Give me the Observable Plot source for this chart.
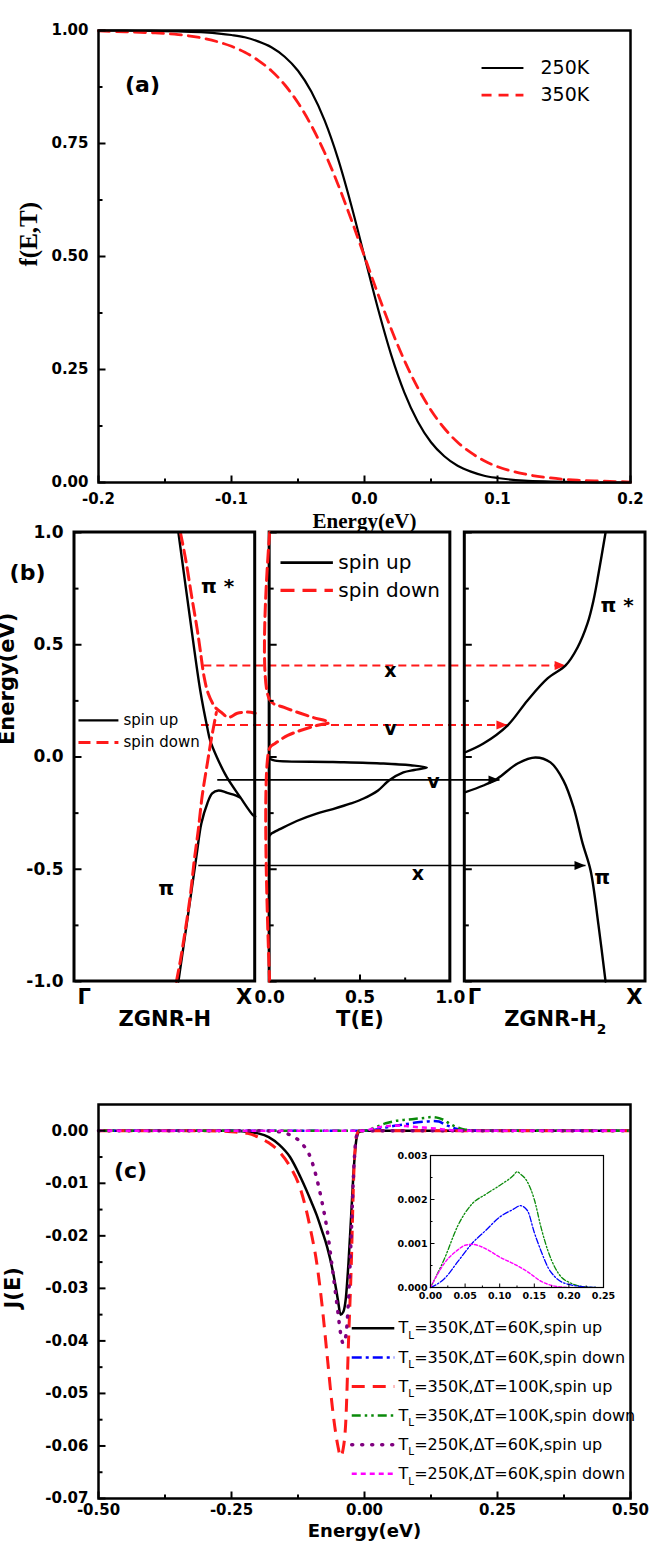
<!DOCTYPE html>
<html><head><meta charset="utf-8">
<script src="https://cdn.jsdelivr.net/npm/d3@7"></script>
<script src="https://cdn.jsdelivr.net/npm/@observablehq/plot@0.6"></script>
<style>
html,body{margin:0;padding:0;background:#fff;}
#fig{position:relative;width:651px;height:1545px;overflow:hidden;background:#fff;}
#fig svg{position:absolute;overflow:visible;}
</style></head><body><div id="fig"></div>
<script>
// ================= DATA =================
// ---- Panel (a): Fermi-Dirac distribution
const energyA = [-0.2,-0.18,-0.16,-0.14,-0.12,-0.1,-0.09,-0.08,-0.07,-0.06,-0.05,-0.04,-0.03,-0.02,-0.01,0,0.01,0.02,0.03,0.04,0.05,0.06,0.07,0.08,0.09,0.1,0.12,0.14,0.16,0.18,0.2];
const f250K = [1.000,1.000,0.999,0.998,0.996,0.990,0.985,0.976,0.963,0.942,0.911,0.865,0.801,0.717,0.614,0.500,0.386,0.283,0.199,0.135,0.089,0.058,0.037,0.024,0.015,0.010,0.004,0.002,0.001,0.000,0.000];
const f350K = [0.999,0.997,0.995,0.991,0.982,0.965,0.952,0.934,0.911,0.880,0.840,0.790,0.730,0.660,0.582,0.500,0.418,0.340,0.270,0.210,0.160,0.120,0.089,0.066,0.048,0.035,0.019,0.010,0.005,0.003,0.001];
const tempLabelsA = ["250K","350K"];
const xTicksA = [-0.2,-0.1,0,0.1,0.2];
const xMinorA = [-0.15,-0.05,0.05,0.15];
const yTicksA = [0,0.25,0.5,0.75,1];
const yMinorA = [0.125,0.375,0.625,0.875];

// ---- Panel (b): band structures and transmission
const hUpPiStarK = [0.575,0.641,0.696,0.735,0.751,0.788,0.843,0.917,0.989,1.0];
const hUpPiStarE = [1.0,0.608,0.296,0.13,0.073,-0.001,-0.09,-0.179,-0.26,-0.265];
const hUpPiK = [0.575,0.624,0.674,0.702,0.735,0.762,0.797,0.84,0.88,0.915];
const hUpPiE = [-1.0,-0.728,-0.447,-0.296,-0.207,-0.162,-0.149,-0.158,-0.168,-0.18];
const hDnUpperK = [0.586,0.613,0.652,0.680,0.696,0.718,0.740,0.779,0.818,0.851,0.901,0.956,1.0];
const hDnUpperE = [1.0,0.890,0.698,0.564,0.475,0.354,0.283,0.221,0.195,0.176,0.195,0.2,0.195];
const hDnLowerK = [0.564,0.586,0.613,0.641,0.663,0.685,0.707,0.735,0.751,0.768,0.785];
const hDnLowerE = [-1.0,-0.906,-0.772,-0.616,-0.459,-0.325,-0.171,-0.029,0.051,0.127,0.198];
const tUpT = [0,0.03,0.35,0.63,0.78,0.87,0.80,0.74,0.66,0.60,0.52,0.45,0.35,0.26,0.15,0.06,0.01,0];
const tUpE = [-0.008,-0.016,-0.022,-0.029,-0.037,-0.047,-0.058,-0.069,-0.105,-0.149,-0.185,-0.207,-0.232,-0.252,-0.285,-0.32,-0.341,-0.35];
const tDnT = [0,0,0.08,0.17,0.24,0.33,0.26,0.17,0.10,0.03,0,0];
const tDnE = [1,0.255,0.221,0.195,0.176,0.154,0.14,0.118,0.096,0.06,0.04,-1];
const h2PiStarK = [0,0.103,0.236,0.347,0.458,0.558,0.624,0.679,0.712,0.740,0.779];
const h2PiStarE = [0.02,0.06,0.14,0.252,0.35,0.408,0.488,0.595,0.697,0.817,1.0];
const h2PiK = [0,0.103,0.181,0.292,0.391,0.474,0.546,0.602,0.652,0.696,0.74,0.779];
const h2PiE = [-0.158,-0.127,-0.096,-0.029,-0.002,-0.024,-0.105,-0.225,-0.385,-0.505,-0.75,-1.0];
const arrowE = [0.408,0.1425,-0.102,-0.483];
const arrowFromK = [0.713,0.70,0.79,0.685];
const arrowToK = [0.558,0.236,0.192,0.668];
const arrowSpin = ["down","down","up","up"];
const transLabelT = [0.668,0.668,0.906,0.82];
const transLabelE = [0.385,0.123,-0.113,-0.52];
const transLabelText = ["x","v","v","x"];
const bandLabelPanel = [0,0,2,2];
const bandLabelK = [0.70,0.464,0.751,0.717];
const bandLabelE = [0.76,-0.586,0.675,-0.535];
const bandLabelText = ["π *","π","π *","π"];
const yTicksB = [-1,-0.5,0,0.5,1];
const yMinorB = [-0.75,-0.25,0.25,0.75];
const tTicksB = [0,0.5,1];
const tMinorB = [0.25,0.75];
const kPointLabels = ["Γ","X"];
const panelNamesB = ["ZGNR-H","T(E)","ZGNR-H_2"];
const spinLabels = ["spin up","spin down"];

// ---- Panel (c): spin-resolved current spectra J(E)
const eUp350_60 = [-0.5,-0.25,-0.22,-0.2,-0.18,-0.16,-0.14,-0.12,-0.1,-0.09,-0.08,-0.07,-0.06,-0.055,-0.05,-0.045,-0.04,-0.035,-0.03,-0.025,-0.02,-0.015,-0.01,0,0.5];
const jUp350_60 = [0,0,-0.0002,-0.0005,-0.0012,-0.0027,-0.005,-0.0089,-0.0135,-0.016,-0.019,-0.0222,-0.0265,-0.0292,-0.0322,-0.035,-0.0345,-0.0318,-0.025,-0.016,-0.007,-0.0015,-0.0002,0,0];
const eDn350_60 = [-0.5,0,0.01,0.02,0.04,0.06,0.08,0.1,0.12,0.13,0.14,0.15,0.16,0.17,0.18,0.19,0.2,0.22,0.24,0.5];
const jDn350_60 = [0,0,0.00008,0.0002,0.0006,0.001,0.0013,0.0016,0.00178,0.00186,0.00175,0.00125,0.00082,0.00045,0.00024,0.00012,0.00007,0.00002,0,0];
const eUp350_100 = [-0.5,-0.3,-0.25,-0.22,-0.2,-0.18,-0.16,-0.14,-0.12,-0.1,-0.09,-0.08,-0.07,-0.06,-0.05,-0.045,-0.04,-0.035,-0.03,-0.025,-0.02,-0.015,-0.01,0.5];
const jUp350_100 = [0,0,-0.0002,-0.0005,-0.0012,-0.0023,-0.004,-0.0068,-0.0112,-0.0195,-0.025,-0.033,-0.043,-0.053,-0.06,-0.062,-0.0605,-0.055,-0.04,-0.026,-0.008,-0.001,0,0];
const eDn350_100 = [-0.5,0,0.02,0.04,0.06,0.08,0.1,0.12,0.125,0.13,0.14,0.15,0.16,0.17,0.18,0.19,0.2,0.22,0.24,0.5];
const jDn350_100 = [0,0,0.00065,0.00142,0.0019,0.00212,0.00232,0.00255,0.00263,0.00258,0.0024,0.002,0.00135,0.00082,0.00045,0.00022,0.00012,0.00002,0,0];
const eUp250_60 = [-0.5,-0.2,-0.16,-0.14,-0.12,-0.1,-0.09,-0.08,-0.07,-0.06,-0.05,-0.045,-0.04,-0.035,-0.03,-0.025,-0.02,-0.015,-0.01,0.5];
const jUp250_60 = [0,0,-0.0002,-0.0008,-0.0022,-0.0055,-0.009,-0.0135,-0.019,-0.0265,-0.0345,-0.0385,-0.0405,-0.039,-0.032,-0.02,-0.007,-0.001,0,0];
const eDn250_60 = [-0.5,0,0.02,0.04,0.05,0.06,0.08,0.1,0.12,0.14,0.16,0.18,0.2,0.5];
const jDn250_60 = [0,0,0.00055,0.00086,0.00096,0.00098,0.00088,0.00069,0.00054,0.00036,0.00014,0.00003,0,0];
const seriesLabelsC = ["T_L=350K,ΔT=60K,spin up","T_L=350K,ΔT=60K,spin down","T_L=350K,ΔT=100K,spin up","T_L=350K,ΔT=100K,spin down","T_L=250K,ΔT=60K,spin up","T_L=250K,ΔT=60K,spin down"];
const xTicksC = [-0.5,-0.25,0,0.25,0.5];
const xMinorC = [-0.375,-0.125,0.125,0.375];
const yTicksC = [0,-0.01,-0.02,-0.03,-0.04,-0.05,-0.06,-0.07];
const yMinorC = [-0.005,-0.015,-0.025,-0.035,-0.045,-0.055,-0.065];
const xTicksInset = [0,0.05,0.1,0.15,0.2,0.25];
const xMinorInset = [0.025,0.075,0.125,0.175,0.225];
const yTicksInset = [0,0.001,0.002,0.003];
const yMinorInset = [0.0005,0.0015,0.0025];

// ================= STYLES / HELPERS =================
const SANS = "'DejaVu Sans', 'Liberation Sans', sans-serif";
const SERIF = "'Liberation Serif', 'Times New Roman', serif";
const RED = "#ff1a1a";
const baseStyle = {background:"transparent", overflow:"visible", color:"black", fontFamily:SANS};
const fig = document.getElementById("fig");
function place(svg, top, left=0){ svg.style.top = top+"px"; svg.style.left = left+"px"; fig.appendChild(svg); return svg; }
const tickSym = (dx, dy) => ({draw(ctx){ ctx.moveTo(0,0); ctx.lineTo(dx,dy); }});
const triSym = {draw(ctx){ ctx.moveTo(0,0); ctx.lineTo(-11,-4.5); ctx.lineTo(-11,4.5); ctx.closePath(); }};
function yTicksAt(values, xv, len, sw=2){ return Plot.dot(values, {x: () => xv, y: d => d, symbol: tickSym(len,0), r:1, fill:"none", stroke:"black", strokeWidth:sw}); }
function xTicksAt(values, yv, len, sw=2){ return Plot.dot(values, {x: d => d, y: () => yv, symbol: tickSym(0,-len), r:1, fill:"none", stroke:"black", strokeWidth:sw}); }
const zip = (xs, ys) => xs.map((x,i)=>({x, y: ys[i]}));
function subscripts(svg){
  const ns = "http://www.w3.org/2000/svg";
  svg.querySelectorAll("text").forEach(el => {
    const t = el.textContent; const m = t.match(/^(.*?)_(\w)(.*)$/);
    if (!m) return;
    const fs = parseFloat(getComputedStyle(el).fontSize) || 16;
    el.textContent = "";
    const a = document.createElementNS(ns,"tspan"); a.textContent = m[1]; el.appendChild(a);
    const b = document.createElementNS(ns,"tspan"); b.textContent = m[2]; b.setAttribute("dy", (fs*0.35).toFixed(1)); b.setAttribute("font-size", (fs*0.65).toFixed(1)); el.appendChild(b);
    if (m[3]) { const c = document.createElementNS(ns,"tspan"); c.textContent = m[3]; c.setAttribute("dy", (-fs*0.35).toFixed(1)); el.appendChild(c); }
  });
}

// ================= PANEL (a) =================
const A = {top:0, height:545, mt:30, mb:63, ml:98, mr:21};
const legA = {x1:0.088, x2:0.1195, xt:0.1323, y:[0.917,0.857]};
const plotA = Plot.plot({
  width:651, height:A.height, marginTop:A.mt, marginBottom:A.mb, marginLeft:A.ml, marginRight:A.mr,
  x:{domain:[-0.2,0.2]}, y:{domain:[0,1]}, style:baseStyle,
  marks:[
    Plot.line(zip(energyA, f250K), {x:"x", y:"y", stroke:"black", strokeWidth:2.2, curve:"monotone-x"}),
    Plot.line(zip(energyA, f350K), {x:"x", y:"y", stroke:RED, strokeWidth:2.8, strokeDasharray:"11,7", curve:"monotone-x"}),
    Plot.frame({stroke:"black", strokeWidth:2.5}),
    yTicksAt(yTicksA, -0.2, 7), yTicksAt(yMinorA, -0.2, 4),
    xTicksAt(xTicksA, 0, 7), xTicksAt(xMinorA, 0, 4),
    Plot.axisY({ticks:yTicksA, tickFormat:d=>d.toFixed(2), tickSize:0, tickPadding:10, fontSize:15, fontWeight:"bold", label:null}),
    Plot.axisX({ticks:xTicksA, tickFormat:d=>d.toFixed(1), tickSize:0, tickPadding:11, fontSize:15, fontWeight:"bold", label:null}),
    Plot.text(["Energy(eV)"], {text:d=>d, frameAnchor:"bottom", dy:45, fontFamily:SERIF, fontWeight:"bold", fontSize:21}),
    Plot.text(["f(E,T)"], {text:d=>d, frameAnchor:"left", dx:-70, dy:10, rotate:-90, fontFamily:SERIF, fontWeight:"bold", fontSize:25}),
    Plot.text(["(a)"], {text:d=>d, frameAnchor:"top-left", dx:44, dy:46, textAnchor:"middle", fontWeight:"bold", fontSize:22}),
    Plot.link([tempLabelsA[0]], {x1:()=>legA.x1, x2:()=>legA.x2, y1:()=>legA.y[0], y2:()=>legA.y[0], stroke:"black", strokeWidth:2.2}),
    Plot.link([tempLabelsA[1]], {x1:()=>legA.x1, x2:()=>legA.x2, y1:()=>legA.y[1], y2:()=>legA.y[1], stroke:RED, strokeWidth:2.8, strokeDasharray:"10,7"}),
    Plot.text(tempLabelsA, {x:()=>legA.xt, y:(d,i)=>legA.y[i], text:d=>d, textAnchor:"start", fontSize:19})
  ]
});
place(plotA, A.top);

// ================= PANEL (b) =================
const B = {top:490, height:570, mt:42, mb:79, ml:74, mr:6};
const offs = [0, 1.08, 2.16];
const bx = (p,k) => offs[p] + k;
const pts = (p, ks, es) => ks.map((k,i)=>({x:bx(p,k), y:es[i]}));
const legBL = {x1:0.022, x2:0.243, xt:0.271, y:[0.163,0.065]};
const legBM = {x1:0.06, x2:0.35, xt:0.38, y:[0.866,0.742]};
const arrows = arrowE.map((E,i)=>({E, x1:bx(0,arrowFromK[i]), x2:bx(2,arrowToK[i]), spin:arrowSpin[i]}));
const redDash = "12,6";
const plotB = Plot.plot({
  width:651, height:B.height, marginTop:B.mt, marginBottom:B.mb, marginLeft:B.ml, marginRight:B.mr,
  x:{domain:[0,3.16], axis:null}, y:{domain:[-1,1]}, style:baseStyle,
  marks:[
    Plot.link(arrows.filter(d=>d.spin==="down"), {x1:"x1", x2:"x2", y1:"E", y2:"E", stroke:RED, strokeWidth:2, strokeDasharray:"8,5"}),
    Plot.link(arrows.filter(d=>d.spin==="up"), {x1:"x1", x2:"x2", y1:"E", y2:"E", stroke:"black", strokeWidth:1.6}),
    Plot.dot(arrows.filter(d=>d.spin==="down"), {x:"x2", y:"E", symbol:triSym, r:1, fill:RED, stroke:"none"}),
    Plot.dot(arrows.filter(d=>d.spin==="up"), {x:"x2", y:"E", symbol:triSym, r:1, fill:"black", stroke:"none"}),
    Plot.line(pts(0, hUpPiStarK, hUpPiStarE), {x:"x", y:"y", stroke:"black", strokeWidth:2.4, curve:"catmull-rom"}),
    Plot.line(pts(0, hUpPiK, hUpPiE), {x:"x", y:"y", stroke:"black", strokeWidth:2.4, curve:"catmull-rom"}),
    Plot.line(pts(0, hDnUpperK, hDnUpperE), {x:"x", y:"y", stroke:RED, strokeWidth:3, strokeDasharray:redDash, curve:"catmull-rom"}),
    Plot.line(pts(0, hDnLowerK, hDnLowerE), {x:"x", y:"y", stroke:RED, strokeWidth:3, strokeDasharray:redDash, curve:"catmull-rom"}),
    Plot.line(pts(2, h2PiStarK, h2PiStarE), {x:"x", y:"y", stroke:"black", strokeWidth:2.4, curve:"catmull-rom"}),
    Plot.line(pts(2, h2PiK, h2PiE), {x:"x", y:"y", stroke:"black", strokeWidth:2.4, curve:"catmull-rom"}),
    Plot.rect(offs, {x1:d=>d, x2:d=>d+1, y1:()=>-1, y2:()=>1, fill:"none", stroke:"black", strokeWidth:3}),
    Plot.line(pts(1, tUpT, tUpE), {x:"x", y:"y", stroke:"black", strokeWidth:2.4, curve:"catmull-rom"}),
    Plot.line(pts(1, tDnT, tDnE), {x:"x", y:"y", stroke:RED, strokeWidth:3, strokeDasharray:redDash, curve:"catmull-rom"}),
    ...offs.flatMap(o => [yTicksAt(yTicksB, o, 7), yTicksAt(yMinorB, o, 4)]),
    xTicksAt(tTicksB.map(t=>bx(1,t)).slice(1,2), -1, 7), xTicksAt(tMinorB.map(t=>bx(1,t)), -1, 4),
    Plot.axisY({ticks:yTicksB, tickFormat:d=>d.toFixed(1), tickSize:0, tickPadding:11, fontSize:17, fontWeight:"bold", label:null}),
    Plot.text(tTicksB, {x:d=>bx(1,d), y:()=>-1, dy:16, text:d=>d.toFixed(1), fontSize:17, fontWeight:"bold"}),
    Plot.text([kPointLabels[0], kPointLabels[0]], {x:(d,i)=>bx(i*2,0), y:()=>-1, dx:3, dy:16, text:d=>d, textAnchor:"start", fontSize:21, fontWeight:"bold"}),
    Plot.text([kPointLabels[1], kPointLabels[1]], {x:(d,i)=>bx(i*2,1), y:()=>-1, dx:-3, dy:16, text:d=>d, textAnchor:"end", fontSize:21, fontWeight:"bold"}),
    Plot.text(panelNamesB, {x:(d,i)=>bx(i,0.5), y:()=>-1, dy:38, text:d=>d, fontSize:21, fontWeight:"bold"}),
    Plot.text(["Energy(eV)"], {text:d=>d, frameAnchor:"left", dx:-67, dy:-12, rotate:-90, fontSize:21, fontWeight:"bold"}),
    Plot.text(["(b)"], {text:d=>d, frameAnchor:"top-left", dx:-47, dy:32, textAnchor:"middle", fontWeight:"bold", fontSize:22}),
    Plot.text(bandLabelText, {x:(d,i)=>bx(bandLabelPanel[i], bandLabelK[i]), y:(d,i)=>bandLabelE[i], text:d=>d, textAnchor:"start", fontSize:20, fontWeight:"bold"}),
    Plot.text(transLabelText, {x:(d,i)=>bx(1, transLabelT[i]), y:(d,i)=>transLabelE[i], text:d=>d, fontSize:19, fontWeight:"bold"}),
    Plot.link([spinLabels[0]], {x1:()=>bx(0,legBL.x1), x2:()=>bx(0,legBL.x2), y1:()=>legBL.y[0], y2:()=>legBL.y[0], stroke:"black", strokeWidth:2.4}),
    Plot.link([spinLabels[1]], {x1:()=>bx(0,legBL.x1), x2:()=>bx(0,legBL.x2), y1:()=>legBL.y[1], y2:()=>legBL.y[1], stroke:RED, strokeWidth:3, strokeDasharray:redDash}),
    Plot.text(spinLabels, {x:()=>bx(0,legBL.xt), y:(d,i)=>legBL.y[i], text:d=>d, textAnchor:"start", fontSize:15}),
    Plot.link([spinLabels[0]], {x1:()=>bx(1,legBM.x1), x2:()=>bx(1,legBM.x2), y1:()=>legBM.y[0], y2:()=>legBM.y[0], stroke:"black", strokeWidth:2.6}),
    Plot.link([spinLabels[1]], {x1:()=>bx(1,legBM.x1), x2:()=>bx(1,legBM.x2), y1:()=>legBM.y[1], y2:()=>legBM.y[1], stroke:RED, strokeWidth:3.2, strokeDasharray:"14,8"}),
    Plot.text(spinLabels, {x:()=>bx(1,legBM.xt), y:(d,i)=>legBM.y[i], text:d=>d, textAnchor:"start", fontSize:20})
  ]
});
place(plotB, B.top);
subscripts(plotB);

// ================= PANEL (c) =================
const C = {top:1060, height:485, mt:44, mb:47, ml:98, mr:21};
const seriesC = [
  {E:eUp350_60, J:jUp350_60, stroke:"black", w:2.5, dash:null, wi:1.3, dashI:null},
  {E:eDn350_60, J:jDn350_60, stroke:"#0000ff", w:2.5, dash:"10,4,3,4", wi:1.3, dashI:"6,2,1.5,2"},
  {E:eUp350_100, J:jUp350_100, stroke:RED, w:3, dash:"13,8", wi:1.3, dashI:"6,3"},
  {E:eDn350_100, J:jDn350_100, stroke:"#0a8a0a", w:2.5, dash:"9,4,2.5,4,2.5,4", wi:1.3, dashI:"5,2,1.5,2,1.5,2"},
  {E:eUp250_60, J:jUp250_60, stroke:"#800080", w:3.5, dash:"1,9", wi:1.5, dashI:"1,3"},
  {E:eDn250_60, J:jDn250_60, stroke:"#ff00ff", w:2.5, dash:"5,4", wi:1.4, dashI:"3,2"}
];
const legC = {x1:-0.024, x2:0.056, xt:0.064, y0:-0.0376, dy:-0.00554};
const plotC = Plot.plot({
  width:651, height:C.height, marginTop:C.mt, marginBottom:C.mb, marginLeft:C.ml, marginRight:C.mr,
  x:{domain:[-0.5,0.5]}, y:{domain:[-0.07,0.005]}, style:baseStyle,
  marks:[
    ...seriesC.map(s => Plot.line(zip(s.E, s.J), {x:"x", y:"y", stroke:s.stroke, strokeWidth:s.w, strokeDasharray:s.dash, strokeLinecap:s.w>3?"round":"butt", curve:"monotone-x"})),
    Plot.frame({stroke:"black", strokeWidth:2.5}),
    yTicksAt(yTicksC, -0.5, 7), yTicksAt(yMinorC, -0.5, 4),
    xTicksAt(xTicksC, -0.07, 7), xTicksAt(xMinorC, -0.07, 4),
    Plot.axisY({ticks:yTicksC, tickFormat:d=>d.toFixed(2), tickSize:0, tickPadding:10, fontSize:15, fontWeight:"bold", label:null}),
    Plot.axisX({ticks:xTicksC, tickFormat:d=>d.toFixed(2), tickSize:0, tickPadding:6, fontSize:15, fontWeight:"bold", label:null}),
    Plot.text(["Energy(eV)"], {text:d=>d, frameAnchor:"bottom", dy:38, fontWeight:"bold", fontSize:18}),
    Plot.text(["J(E)"], {text:d=>d, frameAnchor:"left", dx:-85, dy:7, rotate:-90, fontWeight:"bold", fontSize:21}),
    Plot.text(["(c)"], {text:d=>d, frameAnchor:"top-left", dx:32, dy:58, textAnchor:"middle", fontWeight:"bold", fontSize:22}),
    ...seriesC.map((s,i) => Plot.link([seriesLabelsC[i]], {x1:()=>legC.x1, x2:()=>legC.x2, y1:()=>legC.y0+i*legC.dy, y2:()=>legC.y0+i*legC.dy, stroke:s.stroke, strokeWidth:s.w, strokeDasharray:s.dash, strokeLinecap:s.w>3?"round":"butt"})),
    Plot.text(seriesLabelsC, {x:()=>legC.xt, y:(d,i)=>legC.y0+i*legC.dy, text:d=>d, textAnchor:"start", fontSize:16})
  ]
});
place(plotC, C.top);
subscripts(plotC);

// ---- inset
const I = {left:400, top:1140, width:220, height:170, mt:15, mb:23, ml:30, mr:17};
const insetSeries = [seriesC[3], seriesC[1], seriesC[5]];
const plotI = Plot.plot({
  width:I.width, height:I.height, marginTop:I.mt, marginBottom:I.mb, marginLeft:I.ml, marginRight:I.mr,
  x:{domain:[0,0.25]}, y:{domain:[0,0.003]}, style:baseStyle,
  marks:[
    ...insetSeries.map(s => Plot.line(zip(s.E, s.J).filter(d=>d.x>=0 && d.x<=0.25), {x:"x", y:"y", stroke:s.stroke, strokeWidth:s.wi, strokeDasharray:s.dashI, curve:"monotone-x"})),
    Plot.frame({stroke:"black", strokeWidth:1.2}),
    yTicksAt(yTicksInset, 0, 4, 1), yTicksAt(yMinorInset, 0, 2, 1),
    xTicksAt(xTicksInset, 0, 4, 1), xTicksAt(xMinorInset, 0, 2, 1),
    Plot.axisY({ticks:yTicksInset, tickFormat:d=>d.toFixed(3), tickSize:0, tickPadding:3, fontSize:9.5, fontWeight:"bold", label:null}),
    Plot.axisX({ticks:xTicksInset, tickFormat:d=>d.toFixed(2), tickSize:0, tickPadding:5, fontSize:9.5, fontWeight:"bold", label:null})
  ]
});
place(plotI, I.top, I.left);
</script></body></html>
